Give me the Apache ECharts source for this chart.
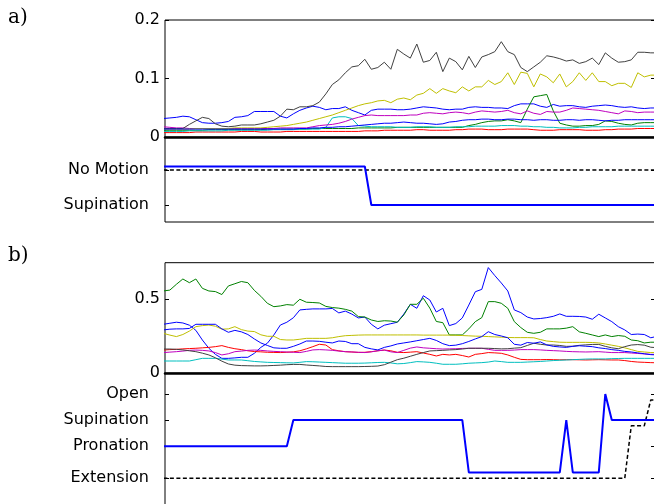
<!DOCTYPE html>
<html><head><meta charset="utf-8">
<script src="https://cdn.jsdelivr.net/npm/echarts@6/dist/echarts.min.js"></script>
<style>html,body{margin:0;padding:0;background:#fff}#c{width:654px;height:504px}</style>
</head><body><div id="c"></div>
<script>
// ---------- Panel a) feature traces (sample index 0..76) ----------
const aBlue1 = [0.032,0.033,0.034,0.036,0.035,0.030,0.025,0.024,0.024,0.025,
 0.027,0.034,0.035,0.037,0.044,0.044,0.044,0.044,0.036,0.033,
 0.040,0.046,0.050,0.053,0.051,0.047,0.049,0.049,0.052,0.046,
 0.042,0.038,0.046,0.048,0.048,0.048,0.047,0.047,0.048,0.050,
 0.052,0.051,0.050,0.048,0.047,0.048,0.048,0.051,0.052,0.051,
 0.051,0.050,0.050,0.049,0.054,0.057,0.057,0.057,0.053,0.051,
 0.056,0.053,0.054,0.054,0.052,0.051,0.053,0.054,0.055,0.054,
 0.052,0.051,0.052,0.050,0.049,0.050,0.050];
const aGreen = [0.012,0.012,0.012,0.012,0.012,0.012,0.012,0.013,0.013,0.013,
 0.013,0.013,0.013,0.013,0.013,0.013,0.014,0.014,0.014,0.014,
 0.014,0.014,0.014,0.015,0.015,0.015,0.015,0.015,0.015,0.015,
 0.016,0.016,0.016,0.016,0.016,0.016,0.017,0.017,0.017,0.017,
 0.017,0.017,0.017,0.017,0.017,0.017,0.017,0.020,0.022,0.025,
 0.027,0.028,0.028,0.030,0.028,0.025,0.048,0.069,0.071,0.073,
 0.045,0.024,0.021,0.019,0.019,0.020,0.020,0.022,0.028,0.027,
 0.024,0.022,0.021,0.024,0.025,0.025,0.025];
const aRed = [0.008,0.008,0.008,0.008,0.008,0.009,0.009,0.009,0.009,0.009,
 0.009,0.009,0.010,0.010,0.010,0.009,0.009,0.009,0.009,0.010,
 0.010,0.010,0.010,0.010,0.010,0.010,0.010,0.010,0.010,0.010,
 0.010,0.011,0.011,0.011,0.012,0.012,0.012,0.012,0.012,0.013,
 0.013,0.012,0.012,0.012,0.012,0.013,0.013,0.014,0.014,0.014,
 0.013,0.013,0.013,0.014,0.014,0.014,0.014,0.013,0.012,0.012,
 0.012,0.013,0.013,0.013,0.013,0.012,0.012,0.012,0.013,0.013,
 0.014,0.014,0.014,0.015,0.015,0.015,0.015];
const aCyan = [0.010,0.010,0.010,0.010,0.011,0.011,0.011,0.011,0.011,0.011,
 0.012,0.012,0.012,0.012,0.012,0.012,0.012,0.013,0.013,0.013,
 0.013,0.014,0.014,0.014,0.014,0.017,0.033,0.035,0.035,0.032,
 0.020,0.019,0.018,0.018,0.018,0.018,0.017,0.017,0.017,0.018,
 0.018,0.018,0.017,0.017,0.017,0.018,0.018,0.018,0.019,0.019,
 0.019,0.019,0.020,0.020,0.020,0.019,0.019,0.018,0.018,0.017,
 0.017,0.016,0.016,0.016,0.017,0.017,0.018,0.018,0.018,0.018,
 0.019,0.019,0.019,0.019,0.019,0.019,0.019];
const aMagenta = [0.018,0.017,0.016,0.016,0.015,0.015,0.015,0.015,0.015,0.015,
 0.015,0.015,0.015,0.015,0.015,0.015,0.015,0.015,0.016,0.016,
 0.016,0.016,0.016,0.018,0.020,0.021,0.022,0.024,0.027,0.031,
 0.034,0.037,0.038,0.037,0.037,0.037,0.037,0.037,0.038,0.038,
 0.041,0.042,0.041,0.040,0.042,0.043,0.042,0.040,0.043,0.045,
 0.044,0.043,0.044,0.046,0.042,0.040,0.045,0.041,0.039,0.044,
 0.043,0.043,0.046,0.050,0.049,0.048,0.047,0.046,0.044,0.042,
 0.040,0.045,0.044,0.042,0.043,0.043,0.043];
const aYellow = [0.014,0.014,0.014,0.014,0.014,0.015,0.015,0.015,0.015,0.015,
 0.015,0.016,0.016,0.016,0.016,0.016,0.017,0.018,0.019,0.020,
 0.022,0.024,0.026,0.029,0.032,0.035,0.038,0.042,0.046,0.050,
 0.054,0.057,0.059,0.062,0.063,0.059,0.065,0.067,0.064,0.072,
 0.075,0.083,0.075,0.083,0.079,0.076,0.086,0.079,0.086,0.086,
 0.097,0.090,0.095,0.110,0.090,0.111,0.109,0.086,0.108,0.103,
 0.093,0.108,0.086,0.095,0.110,0.097,0.110,0.095,0.095,0.088,
 0.092,0.092,0.085,0.110,0.103,0.106,0.106];
const aGray = [0.015,0.015,0.015,0.015,0.022,0.028,0.034,0.032,0.023,0.019,
 0.018,0.019,0.021,0.021,0.021,0.023,0.026,0.029,0.036,0.048,
 0.047,0.052,0.052,0.054,0.060,0.074,0.090,0.098,0.110,0.120,
 0.122,0.133,0.116,0.119,0.128,0.116,0.150,0.142,0.135,0.159,
 0.128,0.131,0.145,0.112,0.135,0.129,0.115,0.138,0.119,0.137,
 0.141,0.146,0.163,0.146,0.141,0.119,0.112,0.120,0.128,0.139,
 0.137,0.134,0.130,0.132,0.126,0.129,0.135,0.124,0.144,0.135,
 0.128,0.129,0.132,0.145,0.145,0.144,0.144];
const aBlue2 = [0.014,0.014,0.014,0.014,0.014,0.014,0.014,0.014,0.014,0.014,
 0.014,0.014,0.014,0.014,0.014,0.014,0.014,0.014,0.014,0.014,
 0.014,0.015,0.015,0.016,0.016,0.017,0.017,0.018,0.018,0.019,
 0.020,0.021,0.022,0.023,0.024,0.024,0.025,0.026,0.025,0.024,
 0.024,0.023,0.022,0.023,0.026,0.027,0.029,0.030,0.030,0.031,
 0.031,0.030,0.030,0.031,0.031,0.030,0.030,0.029,0.030,0.030,
 0.029,0.029,0.030,0.030,0.029,0.030,0.030,0.029,0.028,0.029,
 0.029,0.030,0.030,0.030,0.030,0.030,0.030];

// ---------- Panel a) class traces ----------
const aClassNames = ['Supination', 'No Motion'];
const aClassLevels = [1, 2];
const aPredicted = [2.1,2.1,2.1,2.1,2.1,2.1,2.1,2.1,2.1,2.1,
 2.1,2.1,2.1,2.1,2.1,2.1,2.1,2.1,2.1,2.1,
 2.1,2.1,2.1,2.1,2.1,2.1,2.1,2.1,2.1,2.1,
 2.1,2.1,1,1,1,1,1,1,1,1,
 1,1,1,1,1,1,1,1,1,1,
 1,1,1,1,1,1,1,1,1,1,
 1,1,1,1,1,1,1,1,1,1,
 1,1,1,1,1,1,1];
const aTruth = [2,2,2,2,2,2,2,2,2,2, 2,2,2,2,2,2,2,2,2,2, 2,2,2,2,2,2,2,2,2,2,
 2,2,2,2,2,2,2,2,2,2, 2,2,2,2,2,2,2,2,2,2, 2,2,2,2,2,2,2,2,2,2,
 2,2,2,2,2,2,2,2,2,2, 2,2,2,2,2,2,2];

// ---------- Panel b) feature traces ----------
const bBlue1 = [0.331,0.338,0.345,0.340,0.325,0.290,0.225,0.169,0.128,0.101,
 0.101,0.104,0.108,0.108,0.135,0.175,0.203,0.259,0.326,0.345,
 0.375,0.428,0.432,0.435,0.435,0.435,0.438,0.408,0.420,0.400,
 0.374,0.380,0.331,0.300,0.325,0.335,0.345,0.400,0.466,0.439,
 0.524,0.495,0.414,0.439,0.322,0.336,0.374,0.461,0.551,0.567,
 0.714,0.660,0.610,0.556,0.428,0.410,0.380,0.367,0.370,0.376,
 0.385,0.401,0.385,0.385,0.384,0.380,0.365,0.399,0.374,0.349,
 0.315,0.293,0.262,0.265,0.262,0.240,0.250];
const bGreen = [0.556,0.562,0.601,0.637,0.612,0.637,0.574,0.556,0.552,0.532,
 0.590,0.605,0.620,0.612,0.560,0.520,0.473,0.450,0.455,0.464,
 0.460,0.500,0.480,0.478,0.475,0.452,0.444,0.440,0.432,0.420,
 0.383,0.380,0.360,0.350,0.355,0.353,0.345,0.394,0.466,0.466,
 0.507,0.440,0.350,0.342,0.259,0.259,0.259,0.300,0.349,0.376,
 0.484,0.484,0.473,0.439,0.349,0.309,0.277,0.270,0.277,0.300,
 0.300,0.300,0.305,0.315,0.280,0.270,0.259,0.248,0.259,0.248,
 0.255,0.250,0.225,0.220,0.205,0.210,0.210];
const bRed = [0.157,0.160,0.162,0.165,0.167,0.169,0.172,0.175,0.180,0.187,
 0.175,0.166,0.160,0.152,0.147,0.145,0.142,0.141,0.140,0.142,
 0.145,0.152,0.165,0.180,0.196,0.191,0.160,0.152,0.146,0.144,
 0.141,0.142,0.146,0.152,0.157,0.152,0.142,0.140,0.143,0.146,
 0.137,0.128,0.117,0.128,0.124,0.128,0.120,0.110,0.128,0.133,
 0.140,0.138,0.135,0.124,0.108,0.094,0.092,0.092,0.092,0.093,
 0.092,0.091,0.092,0.092,0.091,0.090,0.091,0.092,0.091,0.090,
 0.090,0.086,0.080,0.076,0.074,0.072,0.071];
const bCyan = [0.083,0.083,0.083,0.083,0.083,0.092,0.101,0.101,0.101,0.096,
 0.090,0.090,0.090,0.085,0.080,0.077,0.074,0.073,0.072,0.071,
 0.070,0.074,0.079,0.078,0.076,0.074,0.072,0.070,0.068,0.068,
 0.068,0.069,0.071,0.073,0.074,0.070,0.064,0.066,0.072,0.079,
 0.077,0.074,0.068,0.061,0.061,0.061,0.064,0.068,0.070,0.072,
 0.076,0.083,0.079,0.074,0.074,0.074,0.076,0.078,0.080,0.083,
 0.086,0.088,0.090,0.092,0.094,0.096,0.097,0.097,0.097,0.099,
 0.100,0.101,0.101,0.101,0.101,0.101,0.101];
const bMagenta = [0.140,0.143,0.146,0.150,0.155,0.157,0.155,0.151,0.140,0.124,
 0.132,0.146,0.150,0.155,0.157,0.155,0.151,0.148,0.146,0.144,
 0.142,0.140,0.148,0.158,0.160,0.158,0.155,0.150,0.146,0.144,
 0.142,0.140,0.145,0.152,0.157,0.145,0.140,0.155,0.170,0.178,
 0.172,0.169,0.166,0.164,0.165,0.166,0.168,0.169,0.169,0.169,
 0.162,0.155,0.155,0.155,0.157,0.160,0.160,0.160,0.158,0.155,
 0.153,0.151,0.148,0.146,0.145,0.144,0.145,0.146,0.143,0.140,
 0.140,0.140,0.137,0.134,0.131,0.128,0.128];
const bYellow = [0.270,0.258,0.248,0.262,0.285,0.315,0.322,0.326,0.318,0.298,
 0.300,0.315,0.295,0.285,0.282,0.260,0.250,0.250,0.228,0.225,
 0.225,0.230,0.236,0.236,0.236,0.236,0.240,0.248,0.254,0.256,
 0.258,0.259,0.259,0.259,0.259,0.259,0.259,0.259,0.259,0.259,
 0.258,0.258,0.258,0.258,0.258,0.257,0.255,0.253,0.251,0.250,
 0.248,0.246,0.244,0.242,0.241,0.241,0.241,0.240,0.228,0.218,
 0.214,0.210,0.209,0.209,0.209,0.209,0.208,0.205,0.198,0.190,
 0.182,0.172,0.160,0.148,0.144,0.140,0.140];
const bGray = [0.164,0.164,0.162,0.158,0.152,0.146,0.136,0.124,0.105,0.082,
 0.063,0.055,0.052,0.051,0.050,0.050,0.051,0.053,0.055,0.058,
 0.060,0.060,0.056,0.053,0.050,0.046,0.045,0.045,0.045,0.045,
 0.045,0.046,0.047,0.049,0.058,0.075,0.092,0.102,0.115,0.128,
 0.140,0.151,0.153,0.155,0.158,0.160,0.164,0.169,0.169,0.169,
 0.169,0.167,0.165,0.166,0.170,0.173,0.188,0.203,0.196,0.191,
 0.191,0.188,0.182,0.183,0.189,0.192,0.195,0.195,0.182,0.172,
 0.166,0.180,0.191,0.194,0.190,0.176,0.173];
const bBlue2 = [0.293,0.298,0.300,0.300,0.303,0.331,0.331,0.331,0.331,0.300,
 0.277,0.290,0.280,0.262,0.232,0.205,0.188,0.172,0.169,0.169,
 0.182,0.198,0.218,0.218,0.216,0.210,0.205,0.218,0.215,0.200,
 0.200,0.175,0.165,0.158,0.175,0.185,0.198,0.205,0.212,0.220,
 0.228,0.236,0.222,0.200,0.187,0.190,0.200,0.215,0.232,0.248,
 0.281,0.262,0.252,0.240,0.196,0.190,0.208,0.203,0.212,0.192,
 0.182,0.178,0.175,0.182,0.186,0.183,0.180,0.172,0.167,0.160,
 0.155,0.148,0.144,0.138,0.132,0.126,0.124];

// ---------- Panel b) class traces ----------
const bClassNames = ['Open', 'Supination', 'Pronation', 'Extension'];
const bClassLevels = [4, 3, 2, 0.776];
const bPredicted = [2,2,2,2,2,2,2,2,2,2, 2,2,2,2,2,2,2,2,2,2,
 3,3,3,3,3,3,3,3,3,3, 3,3,3,3,3,3,3,3,3,3,
 3,3,3,3,3,3,3,1,1,1, 1,1,1,1,1,1,1,1,1,1,
 1,1,3,1,1,1,1,1,4,3, 3,3,3,3,3,3,3];
const bTruth = [0.776,0.776,0.776,0.776,0.776,0.776,0.776,0.776,0.776,0.776,
 0.776,0.776,0.776,0.776,0.776,0.776,0.776,0.776,0.776,0.776,
 0.776,0.776,0.776,0.776,0.776,0.776,0.776,0.776,0.776,0.776,
 0.776,0.776,0.776,0.776,0.776,0.776,0.776,0.776,0.776,0.776,
 0.776,0.776,0.776,0.776,0.776,0.776,0.776,0.776,0.776,0.776,
 0.776,0.776,0.776,0.776,0.776,0.776,0.776,0.776,0.776,0.776,
 0.776,0.776,0.776,0.776,0.776,0.776,0.776,0.776,0.776,0.776,
 0.776,0.776,2.78,2.78,2.78,3.77,3.77];

const C = {blue:'#0000ff', green:'#008000', red:'#ff0000', cyan:'#00bfbf',
           magenta:'#bf00bf', yellow:'#bfbf00', gray:'#404040', black:'#000000'};

const pairs = arr => arr.map((v, i) => [i, v]);
const FONT = 'DejaVu Sans';

function line(data, color, g, width, type) {
  return {type:'line', data: pairs(data), xAxisIndex:g, yAxisIndex:g*2,
    showSymbol:false, symbol:'none', silent:true, animation:false, clip:true,
    lineStyle:{color, width: width || 1, type: type || 'solid'}, z: 3};
}
function xAxis(g, thick) {
  return {type:'value', gridIndex:g, min:0.25, max:75.65, show:true,
    axisLabel:{show:false}, axisTick:{show:false}, splitLine:{show:false},
    axisLine:{show:!!thick, onZero:false, lineStyle:{color:'#000', width:2.5}}};
}
function yAxis(g, min, max, ticks, names, margin, right) {
  return {type:'value', gridIndex:g, min, max, position: right ? 'right' : 'left',
    splitLine:{show:false}, axisLine:{show:false},
    axisTick:{show:true, inside:true, length:4, customValues:ticks, lineStyle:{color:'#000', width:1}},
    axisLabel:{show:!right, customValues:ticks, margin, color:'#000', fontFamily:FONT, fontSize:16,
      formatter: v => {
        if (names) { const k = ticks.findIndex(t => Math.abs(t - v) < 1e-6); return k >= 0 ? names[k] : ''; }
        return String(v);
      }}};
}
const gridBase = {show:true, borderColor:'#000', borderWidth:1, backgroundColor:'transparent',
  containLabel:false, outerBoundsMode:'none', left:165, right:-1};

const aTicks = [0, 0.1, 0.2];
const bTicks = [0, 0.5];

const option = {
  animation:false,
  backgroundColor:'#fff',
  grid:[
    Object.assign({}, gridBase, {top:20, height:117.3}),
    Object.assign({}, gridBase, {top:137.3, height:84.7}),
    Object.assign({}, gridBase, {top:262.7, height:110.6}),
    Object.assign({}, gridBase, {top:373.3, bottom:-10})
  ],
  xAxis:[xAxis(0,true), xAxis(1,false), xAxis(2,true), xAxis(3,false)],
  yAxis:[
    yAxis(0, 0, 0.2, aTicks, null, 5, false), yAxis(0, 0, 0.2, aTicks, null, 5, true),
    yAxis(1, 0.514, 2.934, aClassLevels, aClassNames, 16, false), yAxis(1, 0.514, 2.934, aClassLevels, aClassNames, 16, true),
    yAxis(2, 0, 0.747, bTicks, null, 5, false), yAxis(2, 0, 0.747, bTicks, null, 5, true),
    yAxis(3, -0.59, 4.79, bClassLevels, bClassNames, 16, false), yAxis(3, -0.59, 4.79, bClassLevels, bClassNames, 16, true)
  ],
  graphic:[
    {type:'text', left:8, top:8, style:{text:'a)', font:'20px "DejaVu Serif"', fill:'#000'}},
    {type:'text', left:8, top:246, style:{text:'b)', font:'20px "DejaVu Serif"', fill:'#000'}}
  ],
  series:[
    line(aBlue1, C.blue, 0), line(aGreen, C.green, 0), line(aRed, C.red, 0), line(aCyan, C.cyan, 0),
    line(aMagenta, C.magenta, 0), line(aYellow, C.yellow, 0), line(aGray, C.gray, 0), line(aBlue2, C.blue, 0),
    line(aTruth, C.black, 1, 1.5, [4, 2.5]), line(aPredicted, C.blue, 1, 2),
    line(bBlue1, C.blue, 2), line(bGreen, C.green, 2), line(bRed, C.red, 2), line(bCyan, C.cyan, 2),
    line(bMagenta, C.magenta, 2), line(bYellow, C.yellow, 2), line(bGray, C.gray, 2), line(bBlue2, C.blue, 2),
    line(bTruth, C.black, 3, 1.5, [4, 2.5]), line(bPredicted, C.blue, 3, 2)
  ]
};
const chart = echarts.init(document.getElementById('c'), null, {renderer:'canvas'});
chart.setOption(option);
</script></body></html>
